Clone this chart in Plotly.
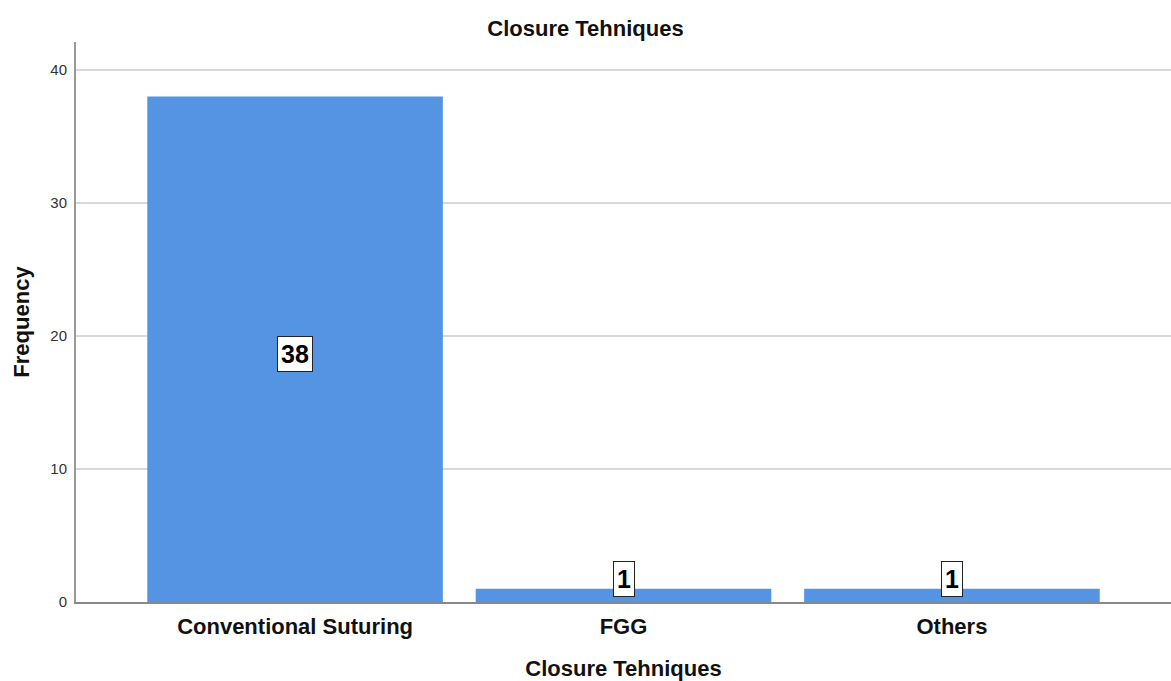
import plotly.graph_objects as go

# Closure technique counts
categories = ["Conventional Suturing", "FGG", "Others"]
frequencies = [38, 1, 1]
y_ticks = [0, 10, 20, 30, 40]

BAR_COLOR = "#5594E3"
FONT = "Liberation Sans, Arial, sans-serif"

fig = go.Figure()
fig.add_trace(go.Bar(
    x=categories,
    y=frequencies,
    width=0.9,
    marker=dict(color=BAR_COLOR, line=dict(width=0)),
    hoverinfo="x+y",
))

# Boxed value labels: centred on the bar, kept above the axis for short bars
y_max = 42.1
plot_h = 681 - 42 - 79
px_per_unit = plot_h / y_max
for cat, val in zip(categories, frequencies):
    mid_px = val / 2 * px_per_unit
    if mid_px < 24:
        ann = dict(y=0, yanchor="bottom", yshift=5)
    else:
        ann = dict(y=val / 2, yanchor="middle", yshift=-5)
    fig.add_annotation(
        x=cat, text=f"<b>{val}</b>", showarrow=False,
        font=dict(family=FONT, size=25, color="black"),
        bgcolor="white", bordercolor="#222", borderwidth=1, borderpad=3,
        **ann,
    )

fig.update_layout(
    width=1171, height=681,
    margin=dict(l=76, r=0, t=42, b=79),
    plot_bgcolor="white", paper_bgcolor="white",
    font=dict(family=FONT, color="#222"),
    showlegend=False,
    bargap=0.1,
    title=dict(
        text="<b>Closure Tehniques</b>", x=0.5, xanchor="center",
        y=1 - 28 / 681, yanchor="middle",
        font=dict(family=FONT, size=22, color="#111"),
    ),
    xaxis=dict(
        range=[-0.667, 2.667],
        automargin=False,
        showgrid=False, zeroline=False,
        showline=True, linecolor="#888", linewidth=2,
        ticks="outside", ticklen=4, tickcolor="rgba(0,0,0,0)",
        tickfont=dict(family=FONT, size=22, color="#111"),
        tickprefix="<b>", ticksuffix="</b>",
        title=dict(text="<b>Closure Tehniques</b>", standoff=26,
                   font=dict(family=FONT, size=22, color="#111")),
    ),
    yaxis=dict(
        range=[0, y_max],
        automargin=False,
        tickvals=y_ticks, ticktext=[str(t) for t in y_ticks],
        showgrid=True, gridcolor="#d9d9d9", gridwidth=2,
        zeroline=False,
        showline=True, linecolor="#999", linewidth=2,
        ticks="", ticklabelstandoff=4,
        tickfont=dict(family=FONT, size=15, color="#333"),
        title=dict(text="<b>Frequency</b>", standoff=15,
                   font=dict(family=FONT, size=22, color="#111")),
    ),
)

fig.write_html("out.html")
